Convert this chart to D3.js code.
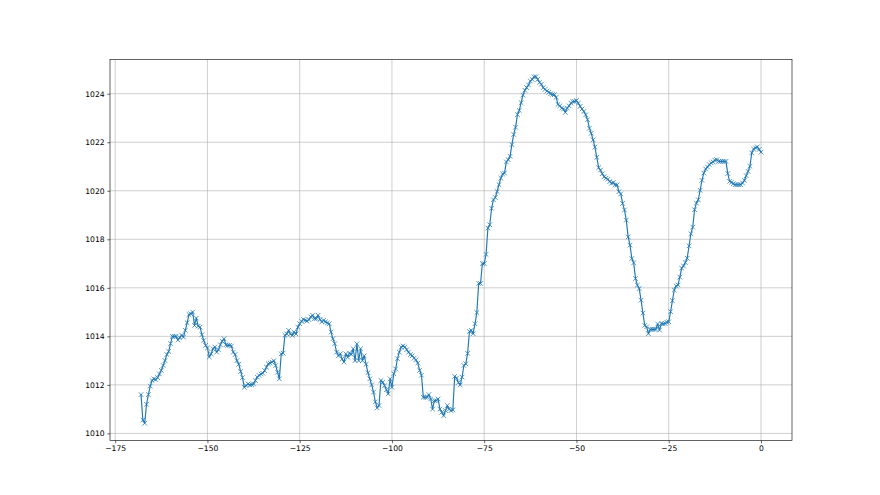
<!DOCTYPE html>
<html>
<head>
<meta charset="utf-8">
<script src="https://cdn.jsdelivr.net/npm/d3@7"></script>
<style>
  body { margin: 0; background: #fff; }
  svg text { font-family: "DejaVu Sans", sans-serif; }
</style>
</head>
<body>
<svg id="chart" width="880" height="495"></svg>
<script>
// pressure readings, one every half hour from -168 h to 0 h
var hours = d3.range(0, 337).map(function (i) { return -168 + i * 0.5; });

var pressure = [
  1011.6, 1010.55, 1010.42, 1011.2, 1011.6, 1011.95, 1012.18, 1012.25, 1012.22, 1012.3,
  1012.45, 1012.6, 1012.8, 1013.0, 1013.25, 1013.38, 1013.7, 1014.0, 1014.0, 1014.0,
  1013.85, 1013.95, 1014.05, 1013.97, 1014.25, 1014.56, 1014.9, 1014.93, 1015.0, 1014.45,
  1014.75, 1014.42, 1014.38, 1014.07, 1013.83, 1013.63, 1013.52, 1013.15, 1013.28, 1013.49,
  1013.56, 1013.35, 1013.45, 1013.65, 1013.8, 1013.9, 1013.65, 1013.63, 1013.63, 1013.6,
  1013.35, 1013.25, 1013.0, 1012.85, 1012.55, 1012.3, 1011.9, 1011.97, 1012.04, 1012.0,
  1012.01, 1012.04, 1012.18, 1012.32, 1012.39, 1012.45, 1012.48, 1012.59, 1012.73, 1012.87,
  1012.9, 1012.94, 1013.0, 1012.8, 1012.52, 1012.25, 1013.28, 1013.31, 1014.04, 1014.1,
  1014.25, 1014.1, 1014.04, 1014.18, 1014.1, 1014.38, 1014.52, 1014.62, 1014.7, 1014.66,
  1014.63, 1014.69, 1014.8, 1014.87, 1014.73, 1014.73, 1014.87, 1014.69, 1014.6, 1014.66,
  1014.6, 1014.55, 1014.52, 1014.18, 1013.9, 1013.7, 1013.35, 1013.2, 1013.28, 1013.07,
  1012.94, 1013.28, 1013.14, 1013.31, 1013.25, 1013.49, 1013.0, 1013.69, 1013.0, 1013.49,
  1013.0, 1013.2, 1012.85, 1012.5, 1012.25, 1012.0, 1011.7, 1011.3, 1011.05, 1011.15,
  1012.18, 1012.11, 1011.97, 1011.8, 1011.63, 1012.25, 1011.9, 1012.46, 1012.66, 1013.08,
  1013.35, 1013.56, 1013.6, 1013.56, 1013.45, 1013.35, 1013.25, 1013.2, 1013.1, 1013.03,
  1012.9, 1012.6, 1012.4, 1011.49, 1011.49, 1011.49, 1011.6, 1011.42, 1011.0, 1011.35,
  1011.35, 1011.42, 1011.0, 1010.87, 1010.73, 1010.94, 1011.15, 1011.0, 1010.94, 1010.97,
  1012.35, 1012.28, 1012.1, 1012.0, 1012.32, 1012.8, 1012.87, 1013.3, 1014.2, 1014.25,
  1014.11, 1014.52, 1014.98, 1016.18, 1016.18, 1017.0, 1017.0, 1017.38, 1018.46, 1018.6,
  1019.28, 1019.63, 1019.72, 1019.97, 1020.25, 1020.52, 1020.69, 1020.73, 1021.19, 1021.28,
  1021.42, 1021.9, 1022.32, 1022.62, 1023.14, 1023.31, 1023.63, 1023.94, 1024.14, 1024.25,
  1024.36, 1024.52, 1024.59, 1024.7, 1024.7, 1024.59, 1024.46, 1024.39, 1024.25, 1024.18,
  1024.11, 1024.06, 1024.0, 1023.97, 1023.96, 1023.85, 1023.56, 1023.5, 1023.41, 1023.37,
  1023.23, 1023.41, 1023.5, 1023.61, 1023.68, 1023.68, 1023.72, 1023.61, 1023.48, 1023.37,
  1023.27, 1023.13, 1022.93, 1022.58, 1022.37, 1022.1, 1021.8, 1021.38, 1020.95, 1020.85,
  1020.7, 1020.58, 1020.52, 1020.47, 1020.38, 1020.31, 1020.34, 1020.24, 1020.24, 1019.96,
  1019.87, 1019.48, 1019.21, 1018.79, 1018.1, 1017.76, 1017.21, 1017.03, 1016.38, 1016.11,
  1015.97, 1015.49, 1014.96, 1014.45, 1014.39, 1014.11, 1014.29, 1014.29, 1014.29, 1014.29,
  1014.51, 1014.26, 1014.53, 1014.51, 1014.53, 1014.58, 1014.6, 1015.02, 1015.47, 1015.91,
  1016.08, 1016.12, 1016.44, 1016.81, 1016.9, 1017.04, 1017.22, 1017.73, 1018.23, 1018.5,
  1019.22, 1019.49, 1019.63, 1020.02, 1020.43, 1020.73, 1020.9, 1020.98, 1021.08, 1021.15,
  1021.19, 1021.26, 1021.28, 1021.21, 1021.21, 1021.21, 1021.21, 1021.21, 1020.71, 1020.39,
  1020.35, 1020.29, 1020.25, 1020.25, 1020.25, 1020.25, 1020.32, 1020.43, 1020.62, 1020.8,
  1021.01, 1021.56, 1021.72, 1021.77, 1021.81, 1021.7, 1021.59
];

var xTicks = [-175, -150, -125, -100, -75, -50, -25, 0];
var yTicks = [1010, 1012, 1014, 1016, 1018, 1020, 1022, 1024];

var data = hours.map(function (h, i) { return {h: h, v: pressure[i]}; });

var svg = d3.select("#chart"),
    width = +svg.attr("width"),
    height = +svg.attr("height");

// figure is 16x9 in at 55 dpi, so 1pt = 55/72 px
var pt = 55 / 72;
var axLeft = 0.125 * width, axRight = 0.9 * width,
    axTop = (1 - 0.88) * height, axBottom = (1 - 0.11) * height;

// matplotlib style 5% margins
var xe = d3.extent(hours), ye = d3.extent(pressure);
var xm = (xe[1] - xe[0]) * 0.05, ym = (ye[1] - ye[0]) * 0.05;

var x = d3.scaleLinear().domain([xe[0] - xm, xe[1] + xm]).range([axLeft, axRight]);
var y = d3.scaleLinear().domain([ye[0] - ym, ye[1] + ym]).range([axBottom, axTop]);

var fmt = function (d) { return d < 0 ? "\u2212" + Math.abs(d) : "" + d; };

// grid
var grid = svg.append("g").attr("class", "grid");
grid.selectAll(".gx")
    .data(xTicks)
    .enter()
    .append("line")
    .attr("x1", function (d) { return x(d); })
    .attr("x2", function (d) { return x(d); })
    .attr("y1", axTop)
    .attr("y2", axBottom)
    .attr("stroke", "#b0b0b0")
    .attr("stroke-width", 0.8 * pt);
grid.selectAll(".gy")
    .data(yTicks)
    .enter()
    .append("line")
    .attr("x1", axLeft)
    .attr("x2", axRight)
    .attr("y1", function (d) { return y(d); })
    .attr("y2", function (d) { return y(d); })
    .attr("stroke", "#b0b0b0")
    .attr("stroke-width", 0.8 * pt);

// axes
var tickLen = 3.5 * pt, pad = 3.5 * pt, fs = 10 * pt;

var xAxis = d3.axisBottom(x)
    .tickValues(xTicks)
    .tickFormat(fmt)
    .tickSizeInner(tickLen)
    .tickSizeOuter(0)
    .tickPadding(pad);
var yAxis = d3.axisLeft(y)
    .tickValues(yTicks)
    .tickFormat(fmt)
    .tickSizeInner(tickLen)
    .tickSizeOuter(0)
    .tickPadding(pad);

var gx = svg.append("g")
    .attr("transform", "translate(0," + axBottom + ")")
    .call(xAxis);
var gy = svg.append("g")
    .attr("transform", "translate(" + axLeft + ",0)")
    .call(yAxis);

[gx, gy].forEach(function (g) {
    g.select(".domain").remove();
    g.selectAll(".tick line").attr("stroke", "#000").attr("stroke-width", 0.8 * pt);
    g.selectAll(".tick text")
        .attr("fill", "#000")
        .style("font-size", fs + "px")
        .style("font-family", "'DejaVu Sans', sans-serif");
});

// line
var line = d3.line()
    .x(function (d) { return x(d.h); })
    .y(function (d) { return y(d.v); });

svg.append("path")
    .datum(data)
    .attr("fill", "none")
    .attr("stroke", "#1f77b4")
    .attr("stroke-width", 1.5 * pt)
    .attr("stroke-linejoin", "round")
    .attr("stroke-linecap", "square")
    .attr("d", line);

// x markers
var ms = 6 * pt / 2;
svg.append("g")
    .selectAll("path")
    .data(data)
    .enter()
    .append("path")
    .attr("transform", function (d) { return "translate(" + x(d.h) + "," + y(d.v) + ")"; })
    .attr("d", "M" + (-ms) + "," + (-ms) + "L" + ms + "," + ms + "M" + (-ms) + "," + ms + "L" + ms + "," + (-ms))
    .attr("stroke", "#1f77b4")
    .attr("stroke-width", 1 * pt)
    .attr("fill", "none");

// spines
svg.append("rect")
    .attr("x", axLeft)
    .attr("y", axTop)
    .attr("width", axRight - axLeft)
    .attr("height", axBottom - axTop)
    .attr("fill", "none")
    .attr("stroke", "#000")
    .attr("stroke-width", 0.8 * pt);
</script>
</body>
</html>
